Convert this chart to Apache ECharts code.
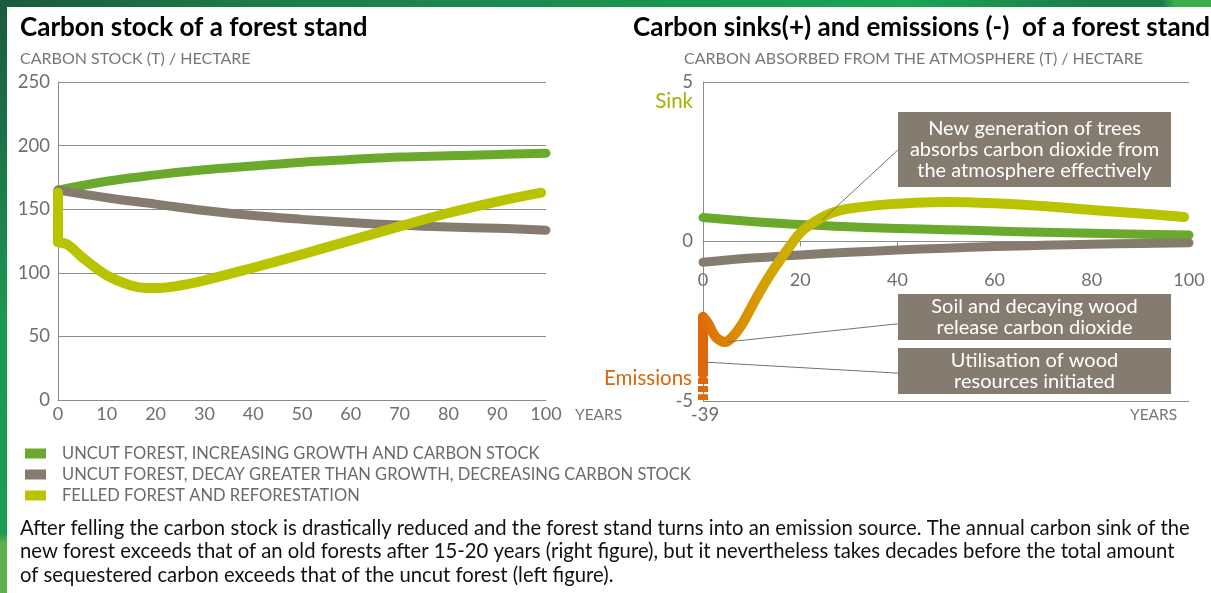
<!DOCTYPE html>
<html>
<head>
<meta charset="utf-8">
<script src="https://cdn.jsdelivr.net/npm/echarts@6/dist/echarts.min.js"></script>
<style>
    html, body { margin: 0; padding: 0; background: #fff; }
    #chart { width: 1211px; height: 593px; }
</style>
</head>
<body>
<div id="chart"></div>
<script>
    // ---- left figure: carbon stock (t/ha) ----
    var stockYears = [0, 10, 20, 30, 40, 50, 60, 70, 80, 90, 100];
    var stockUncutGrowing = [165, 172, 177, 181, 184, 187, 189, 191, 192, 193, 194];
    var stockUncutDecaying = [165, 159, 154, 149, 145, 142, 139.5, 137.5, 136, 135, 133.5];
    var fellingDrop = [163, 124];          // at year 0
    var regrowthYears = [0, 2, 5, 10, 15, 18, 20, 25, 30, 40, 50, 60, 70, 80, 90, 99];
    var stockRegrowth = [124, 122, 112, 98, 90, 88, 88, 90, 94, 104, 114.5, 125.5, 136.5, 147, 156, 163];

    // ---- right figure: sinks (+) / emissions (-) (t/ha per year) ----
    var fluxYears = [0, 10, 20, 30, 40, 50, 60, 70, 80, 90, 100];
    var fluxUncutGrowing = [0.75, 0.63, 0.53, 0.46, 0.41, 0.37, 0.33, 0.29, 0.26, 0.23, 0.2];
    var fluxUncutDecaying = [-0.65, -0.52, -0.42, -0.34, -0.27, -0.21, -0.16, -0.12, -0.09, -0.06, -0.04];
    var harvestSolid = [-4.15, -2.37];     // at year 0
    var harvestDashed = [-4.97, -4.15];    // off-scale part (-39)
    var fellYears = [0, 1, 2, 3, 4.5, 6, 8, 10, 12, 14, 16, 18, 20, 22, 25, 28, 32, 36, 42, 50, 60, 70, 80, 90, 99];
    var fluxFelled = [-2.37, -2.55, -2.85, -3.05, -3.15, -3.0, -2.6, -2.05, -1.5, -1.0, -0.55, -0.12, 0.27, 0.52,
        0.8, 0.97, 1.07, 1.14, 1.2, 1.24, 1.2, 1.11, 0.99, 0.88, 0.77];

    var stockTicks = { min: 0, max: 250, interval: 50 };
    var fluxTicks = { min: -5, max: 5, interval: 5 };

    var legendNames = [
        'UNCUT FOREST, INCREASING GROWTH AND CARBON STOCK',
        'UNCUT FOREST, DECAY GREATER THAN GROWTH, DECREASING CARBON STOCK',
        'FELLED FOREST AND REFORESTATION'
    ];

    var GREEN = '#6aa92b', GREY = '#857c6f', LIME = '#b9c400', ORANGE = '#e0680c';
    var AXIS = '#8c8c8c', LABEL = '#6f6f6f', FONT = 'Lato';

    function pairs(xs, ys) {
        return ys.map(function (y, i) { return [xs[i], y]; });
    }
    function atYear(x, ys) {
        return ys.map(function (y) { return [x, y]; });
    }

    function lineSeries(name, color, width, data, grid) {
        return {
            name: name,
            type: 'line',
            xAxisIndex: grid, yAxisIndex: grid,
            data: data,
            smooth: 0.4,
            showSymbol: false,
            symbol: 'none',
            itemStyle: { color: color },
            lineStyle: { color: color, width: width, cap: 'round', join: 'round' },
            silent: true
        };
    }

    function note(x, y, w, h, text) {
        return {
            type: 'group',
            children: [
                { type: 'rect', shape: { x: x, y: y, width: w, height: h }, style: { fill: GREY } },
                {
                    type: 'text', x: x + w / 2, y: y + h / 2,
                    style: {
                        text: text, fill: '#fff', fontSize: 20, fontFamily: FONT, lineHeight: 21,
                        align: 'center', verticalAlign: 'middle'
                    }
                }
            ]
        };
    }

    function label(x, y, text, opts) {
        var style = { text: text, fill: LABEL, fontSize: 18, fontFamily: FONT, verticalAlign: 'middle', align: 'left' };
        for (var k in opts) style[k] = opts[k];
        return { type: 'text', x: x, y: y, style: style };
    }

    var chart = echarts.init(document.getElementById('chart'));

    var titleStyle = { fontSize: 26, fontWeight: 'bold', color: '#000', fontFamily: FONT };
    var subStyle = { fontSize: 16, fontWeight: 'normal', color: '#777', fontFamily: FONT };

    var option = {
        animation: false,
        title: [
            { text: 'Carbon stock of a forest stand', left: 20, top: 15, padding: 0, textStyle: titleStyle },
            { text: 'Carbon sinks(+) and emissions (-)  of a forest stand', left: 633, top: 15, padding: 0, textStyle: titleStyle },
            { text: 'CARBON STOCK (T) / HECTARE', left: 20, top: 51, padding: 0, textStyle: subStyle },
            { text: 'CARBON ABSORBED FROM THE ATMOSPHERE (T) / HECTARE', left: 684, top: 51, padding: 0, textStyle: subStyle }
        ],
        legend: {
            orient: 'vertical', left: 25, top: 445, padding: 0,
            itemWidth: 21, itemHeight: 10, itemGap: 4, icon: 'rect',
            selectedMode: false,
            textStyle: { fontSize: 16.5, color: '#6a6a6a', fontFamily: FONT, padding: [0, 0, 0, 11] },
            data: legendNames
        },
        grid: [
            { left: 58, right: 665, top: 82, bottom: 193 },
            { left: 703, right: 22, top: 82, bottom: 192 }
        ],
        xAxis: [
            {
                type: 'value', gridIndex: 0, min: 0, max: 100, interval: 10,
                axisLine: { lineStyle: { color: AXIS } },
                axisTick: { show: false },
                splitLine: { show: false },
                axisLabel: { fontSize: 18, color: LABEL, fontFamily: FONT, margin: 5 }
            },
            {
                // sits on the zero line of the flux axis
                type: 'value', gridIndex: 1, min: 0, max: 100, interval: 20,
                position: 'bottom', offset: -159.5,
                axisLine: { onZero: false, lineStyle: { color: AXIS } },
                axisTick: { show: true, length: 5, lineStyle: { color: AXIS } },
                splitLine: { show: false },
                axisLabel: { fontSize: 18, color: LABEL, fontFamily: FONT, margin: 30 }
            }
        ],
        yAxis: [
            {
                type: 'value', gridIndex: 0,
                min: stockTicks.min, max: stockTicks.max, interval: stockTicks.interval,
                axisLine: { show: true, lineStyle: { color: AXIS } },
                axisTick: { show: false },
                splitLine: { lineStyle: { color: AXIS } },
                axisLabel: { fontSize: 18.5, color: LABEL, fontFamily: FONT, margin: 8 }
            },
            {
                type: 'value', gridIndex: 1,
                min: fluxTicks.min, max: fluxTicks.max, interval: fluxTicks.interval,
                axisLine: { show: true, onZero: false, lineStyle: { color: AXIS } },
                axisTick: { show: false },
                splitLine: { lineStyle: { color: AXIS } },
                axisLabel: { fontSize: 18.5, color: LABEL, fontFamily: FONT, margin: 10 }
            }
        ],
        series: [
            lineSeries(legendNames[0], GREEN, 9, pairs(stockYears, stockUncutGrowing), 0),
            lineSeries(legendNames[1], GREY, 9, pairs(stockYears, stockUncutDecaying), 0),
            lineSeries(legendNames[2], LIME, 10, atYear(0, fellingDrop), 0),
            lineSeries(legendNames[2], LIME, 10, pairs(regrowthYears, stockRegrowth), 0),

            lineSeries('sink uncut growing', GREEN, 9, pairs(fluxYears, fluxUncutGrowing), 1),
            lineSeries('sink uncut decaying', GREY, 9, pairs(fluxYears, fluxUncutDecaying), 1),
            (function () {
                var s = lineSeries('harvest emissions off scale', ORANGE, 10, atYear(0, harvestDashed), 1);
                s.lineStyle.cap = 'butt';
                s.lineStyle.type = [6, 2];
                return s;
            })(),
            lineSeries('harvest emissions', ORANGE, 10, atYear(0, harvestSolid), 1),
            (function () {
                var s = lineSeries('felled sink', LIME, 10, pairs(fellYears, fluxFelled), 1);
                s.lineStyle.color = new echarts.graphic.LinearGradient(0, 0, 1, 0, [
                    { offset: 0, color: '#e0690a' },
                    { offset: 0.06, color: '#dc8400' },
                    { offset: 0.14, color: '#d4a200' },
                    { offset: 0.22, color: '#c6b800' },
                    { offset: 0.32, color: '#b9c400' },
                    { offset: 1, color: '#b9c400' }
                ]);
                // leader lines from the notes to the curve
                s.markLine = {
                    silent: true, symbol: ['none', 'none'],
                    label: { show: false },
                    lineStyle: { color: '#7a7268', width: 1, type: 'solid' },
                    data: [
                        [{ coord: [40.1, 2.87] }, { coord: [24.5, 0.67] }],
                        [{ coord: [40.1, -2.58] }, { coord: [4.9, -3.15] }],
                        [{ coord: [40.5, -4.13] }, { coord: [0.2, -3.78] }]
                    ]
                };
                return s;
            })()
        ],
        graphic: [
            // green frame
            { type: 'rect', shape: { x: 0, y: 0, width: 1211, height: 7 }, silent: true,
              style: { fill: new echarts.graphic.LinearGradient(0, 0, 1, 0, [
                  { offset: 0, color: '#1b5a3c' }, { offset: 0.2, color: '#1c7a48' },
                  { offset: 0.5, color: '#1a914f' }, { offset: 0.75, color: '#1aa552' },
                  { offset: 0.9, color: '#1b7d4a' }, { offset: 0.96, color: '#1b7d4a' },
                  { offset: 0.97, color: '#3aae4c' }, { offset: 1, color: '#3aae4c' }]) } },
            { type: 'rect', shape: { x: 0, y: 0, width: 7, height: 593 }, silent: true,
              style: { fill: new echarts.graphic.LinearGradient(0, 0, 0, 1, [
                  { offset: 0, color: '#1b5a3c' }, { offset: 0.25, color: '#1c7548' },
                  { offset: 0.55, color: '#1d9a52' }, { offset: 0.9, color: '#1e9a52' },
                  { offset: 0.915, color: '#5db04b' }, { offset: 1, color: '#5db04b' }]) } },

            label(575, 415, 'YEARS', { fontSize: 15.5, fill: '#777' }),
            label(1130, 415, 'YEARS', { fontSize: 15.5, fill: '#777' }),
            label(705, 415, '-39', { align: 'center', fontSize: 18.5 }),
            label(693, 101, 'Sink', { align: 'right', fill: '#a4b200', fontSize: 20.5 }),
            label(692, 378, 'Emissions', { align: 'right', fill: '#d9650d', fontSize: 20.5 }),

            note(898, 112, 273, 75, 'New generation of trees\nabsorbs carbon dioxide from\nthe atmosphere effectively'),
            note(898, 294, 273, 46, 'Soil and decaying wood\nrelease carbon dioxide'),
            note(898, 348, 273, 46, 'Utilisation of wood\nresources initiated'),

            label(20, 528, 'After felling the carbon stock is drastically reduced and the forest stand turns into an emission source. The annual carbon sink of the', { fontSize: 20.3, fill: '#111' }),
            label(20, 551, 'new forest exceeds that of an old forests after 15-20 years (right figure), but it nevertheless takes decades before the total amount', { fontSize: 20.3, fill: '#111' }),
            label(20, 575, 'of sequestered carbon exceeds that of the uncut forest (left figure).', { fontSize: 20.3, fill: '#111' })
        ]
    };

    chart.setOption(option);
</script>
</body>
</html>
